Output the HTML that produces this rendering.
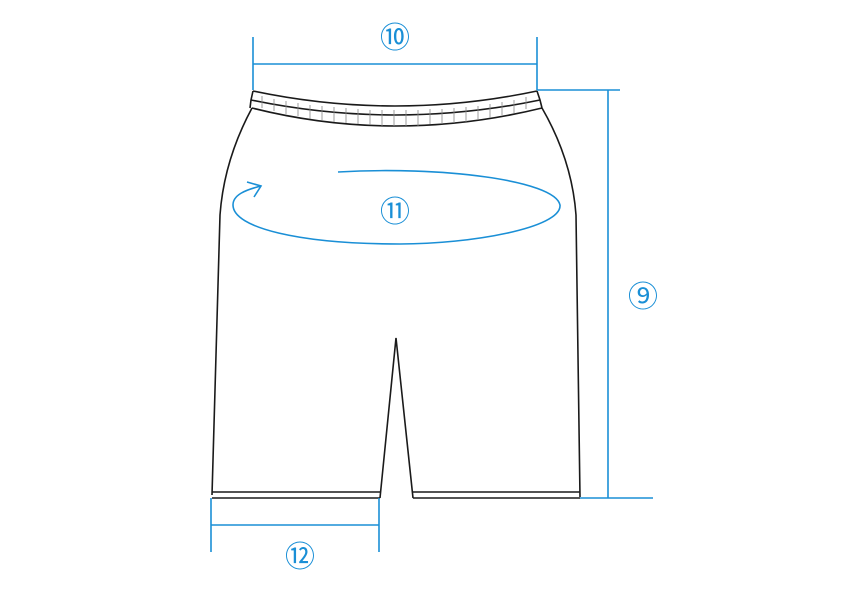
<!DOCTYPE html>
<html><head><meta charset="utf-8"><style>
html,body{margin:0;padding:0;background:#fff;}
svg{display:block}
text{font-family:"Liberation Sans","Noto Sans CJK JP",sans-serif;fill:#1a8fd6;font-size:30px;text-anchor:middle}
</style></head><body>
<svg width="842" height="595" viewBox="0 0 842 595" xmlns="http://www.w3.org/2000/svg">
<g fill="none" stroke="#1a1a1a" stroke-width="1.6">
  <path d="M253,91 Q395,121 537,91"/>
  <path d="M251,100 Q395,130 540,100"/>
  <path d="M252,108 Q395,144 542,108"/>
  <path d="M253,91 L251,100 L250,108"/>
  <path d="M537,91 L540,100 L542,108"/>
  <path d="M252,108 Q224,160 220,215 L212,495"/>
  <path d="M542,108 Q572,160 576,215 L580,497"/>
  <path d="M212,492 L380,492 M212,498 L380,498"/>
  <path d="M413,492 L580,492 M413,498 L580,498"/>
  <path d="M380,498 L396,338 L413,498"/>
</g>
<g stroke="#888" stroke-width="0.8" fill="none">
<path d="M262,96 v12 M274,99 v12 M286,101 v13 M298,103 v13 M310,105 v14 M322,106 v14 M334,107 v15 M346,108 v15 M358,109 v15 M370,110 v15 M382,110 v16 M394,110 v16 M406,110 v16 M418,110 v16 M430,109 v15 M442,109 v15 M454,108 v15 M466,107 v15 M478,106 v14 M490,104 v14 M502,102 v13 M514,100 v13 M526,97 v12"/>
</g>
<g fill="none" stroke="#1a8fd6" stroke-width="1.6">
  <path d="M253,37 L253,90 M537,37 L537,90 M253,64 L537,64"/>
  <path d="M537,90 L620,90 M608,90 L608,498 M580,498 L653,498"/>
  <path d="M211,498 L211,552 M379,498 L379,552 M211,525 L379,525"/>
  <path d="M338,172 C440,166 555,180 560,205 C562,228 470,244 400,244 C300,244 233,228 233,205 C233,195 245,190 261,186"/>
  <path d="M247,182 L261,186 L254,197"/>
</g>
<text x="395" y="48">⑩</text>
<text x="395" y="222">⑪</text>
<text x="643" y="307">⑨</text>
<text x="300" y="567">⑫</text>
</svg>
</body></html>
